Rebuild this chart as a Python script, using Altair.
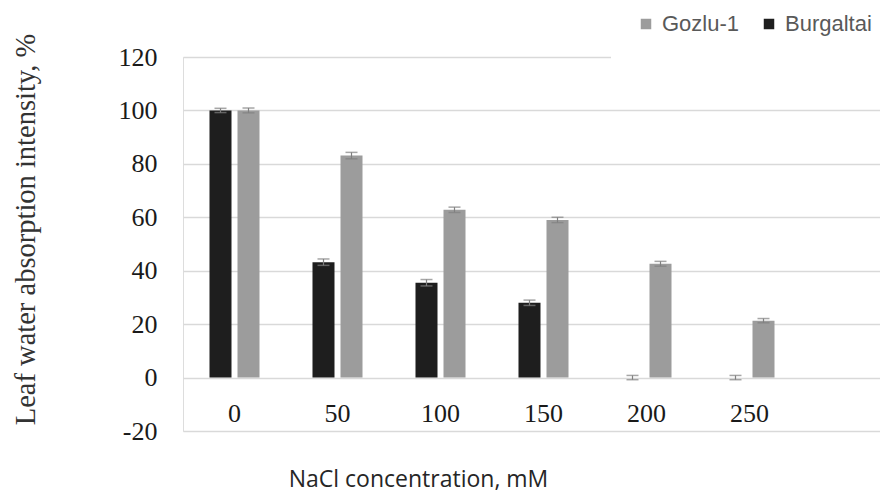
import altair as alt
import pandas as pd

concentrations = ["0", "50", "100", "150", "200", "250"]
varieties = ["Gozlu-1", "Burgaltai"]
burgaltai = [100, 43.2, 35.5, 28.0, 0, 0]
burgaltai_err = [0.8, 1.2, 1.2, 1.0, 0.8, 0.8]
gozlu = [100, 83.1, 62.8, 59.0, 42.6, 21.3]
gozlu_err = [0.9, 1.2, 1.0, 1.0, 0.9, 0.8]

rows = []
for c, v, e in zip(concentrations, burgaltai, burgaltai_err):
    rows.append({"conc": c, "variety": "Burgaltai", "value": v, "lo": v - e, "hi": v + e})
for c, v, e in zip(concentrations, gozlu, gozlu_err):
    rows.append({"conc": c, "variety": "Gozlu-1", "value": v, "lo": v - e, "hi": v + e})
df = pd.DataFrame(rows)

serif = "Liberation Serif"

x = alt.X(
    "conc:N",
    sort=concentrations,
    scale=alt.Scale(paddingInner=0, paddingOuter=0.3835, align=0),
    axis=alt.Axis(
        title="NaCl concentration, mM",
        titleFont="Open Sans",
        titleFontSize=23,
        titleFontWeight="normal",
        titleColor="#262626",
        titleX=235,
        titleY=101,
        titleAlign="center",
        titleBaseline="middle",
        labelFont=serif,
        labelFontSize=26,
        labelColor="#1a1a1a",
        labelAngle=0,
        labelBaseline="middle",
        labelPadding=35,
        ticks=False,
        tickSize=0,
        domain=False,
        offset=-53,
    ),
)
xo = alt.XOffset(
    "variety:N",
    sort=["Burgaltai", "Gozlu-1"],
    scale=alt.Scale(paddingInner=0.214, paddingOuter=0.946),
)
y_scale = alt.Scale(domain=[-20, 120], nice=False, zero=False)

bars = alt.Chart(df).mark_bar().encode(
    x=x,
    xOffset=xo,
    y=alt.Y(
        "value:Q",
        scale=y_scale,
        axis=alt.Axis(
            values=[-20, 0, 20, 40, 60, 80, 100, 120],
            labelExpr="'' + datum.value",
            title="Leaf water absorption intensity, %",
            titleFont=serif,
            titleFontSize=28.5,
            titleFontWeight="normal",
            titleColor="#333333",
            titleX=-158,
            titleY=172,
            titleAlign="center",
            titleBaseline="middle",
            titleAngle=270,
            labelFont=serif,
            labelFontSize=26,
            labelColor="#1a1a1a",
            labelPadding=26,
            ticks=False,
            tickSize=0,
            domain=False,
            grid=True,
            gridColor="#d9d9d9",
            gridWidth=1.5,
        ),
    ),
    color=alt.Color(
        "variety:N",
        scale=alt.Scale(domain=varieties, range=["#9c9c9c", "#1e1e1e"]),
        legend=alt.Legend(
            title=None,
            orient="none",
            legendX=428,
            legendY=-68,
            direction="horizontal",
            symbolType="square",
            symbolSize=110,
            symbolStrokeWidth=0,
            labelFont="Liberation Sans",
            labelFontSize=22,
            labelColor="#595959",
            labelOffset=5,
            columnPadding=18,
            fillColor="white",
            padding=24,
        ),
    ),
)

rules = alt.Chart(df).mark_rule(color="#808080", strokeWidth=1.2).encode(
    x=x, xOffset=xo, y=alt.Y("lo:Q", scale=y_scale), y2="hi:Q"
)
cap_lo = alt.Chart(df).mark_tick(color="#808080", thickness=1.5, size=12).encode(
    x=x, xOffset=xo, y=alt.Y("lo:Q", scale=y_scale)
)
cap_hi = alt.Chart(df).mark_tick(color="#808080", thickness=1.5, size=12).encode(
    x=x, xOffset=xo, y=alt.Y("hi:Q", scale=y_scale)
)

chart = (
    alt.layer(bars, rules, cap_lo, cap_hi)
    .properties(
        width=697,
        height=374,
        padding={"left": 175, "top": 49, "right": 0, "bottom": 61},
        autosize=alt.AutoSizeParams(type="none"),
    )
    .configure_view(stroke=None)
    .configure(background="white")
)

chart.save("out.html", embed_options={"renderer": "svg", "actions": False})
